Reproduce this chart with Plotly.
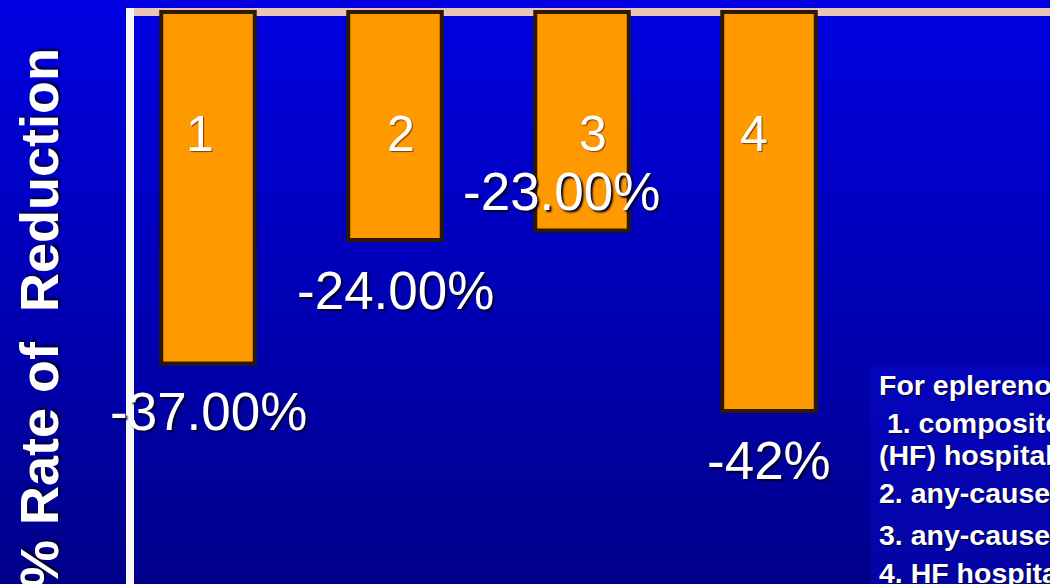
import plotly.graph_objects as go

# ---- data ----
bar_ids = ["1", "2", "3", "4"]
reduction_pct = [-37.0, -24.0, -23.0, -42.0]
value_labels = ["-37.00%", "-24.00%", "-23.00%", "-42%"]
y_title = "% Rate of\u00a0 Reduction"
legend_lines = [
    "For eplerenone vs placebo:",
    "\u00a01. composite of CV death or heart failure",
    "(HF) hospitalization",
    "2. any-cause death",
    "3. any-cause hospitalization",
    "4. HF hospitalization",
]

# ---- styling / layout helpers ----
W, H = 1050, 584
ML, MT = 134, 8
PW, PH = W - ML, H - MT
FONT = "Arial, Liberation Sans, sans-serif"
SHADOW = "2px 2px 2px #000030"

label_yshift = [-48, -50, 39, -49]
label_xshift = [0, 0, -21, 0]
id_xshift = [-8, 6, 11, -15]
legend_y_px = [385, 423, 455, 493, 535, 573]
legend_x_px = [877, 877, 877, 877, 877, 877]

def px_to_paper_x(px):
    return (px - ML) / PW

def px_to_paper_y(py):
    return (H - py) / PH

fig = go.Figure()
xs = list(range(len(bar_ids)))
fig.add_trace(go.Bar(
    x=xs, y=reduction_pct, width=0.5,
    marker=dict(color="#FF9900", line=dict(color="#2b1a00", width=4)),
    hoverinfo="skip",
))

shapes = []
# vertical gradient background (bright blue top -> navy bottom)
n_bands = 73
top_c, bot_c = 226, 138
for i in range(n_bands):
    y_top = i * H / n_bands
    y_bot = (i + 1) * H / n_bands + 1
    t = (i + 0.5) / n_bands
    b = round(top_c + (bot_c - top_c) * t)
    shapes.append(dict(
        type="rect", xref="paper", yref="paper", layer="below",
        x0=px_to_paper_x(-5), x1=px_to_paper_x(W + 5),
        y0=px_to_paper_y(y_bot), y1=px_to_paper_y(y_top),
        line=dict(width=0), fillcolor=f"rgb(0,0,{b})",
    ))
# legend box (slightly lighter)
shapes.append(dict(
    type="rect", xref="paper", yref="paper", layer="below",
    x0=px_to_paper_x(870), x1=px_to_paper_x(W + 10),
    y0=px_to_paper_y(H + 10), y1=px_to_paper_y(365),
    line=dict(width=0), fillcolor="rgba(20,20,255,0.22)",
))
# zero baseline
shapes.append(dict(
    type="line", xref="paper", yref="y", layer="below",
    x0=0, x1=1, y0=0, y1=0,
    line=dict(color="#EBC4B8", width=8),
))

annotations = []
for i, (v, t) in enumerate(zip(reduction_pct, value_labels)):
    annotations.append(dict(
        x=i, y=v, xref="x", yref="y", text=t, showarrow=False,
        xanchor="center", yanchor="middle",
        xshift=label_xshift[i], yshift=label_yshift[i],
        font=dict(family=FONT, size=53, color="white", shadow=SHADOW),
    ))
for i, b in enumerate(bar_ids):
    annotations.append(dict(
        x=i, y=px_to_paper_y(134), xref="x", yref="paper", text=b,
        showarrow=False, xanchor="center", yanchor="middle",
        xshift=id_xshift[i],
        font=dict(family=FONT, size=50, color="white", shadow="1px 1px 1px #804000"),
    ))
annotations.append(dict(
    x=px_to_paper_x(39), y=px_to_paper_y(318), xref="paper", yref="paper",
    text=f"<b>{y_title}</b>", textangle=-90, showarrow=False,
    xanchor="center", yanchor="middle",
    font=dict(family=FONT, size=54, color="white", shadow=SHADOW),
))
for line, lx, ly in zip(legend_lines, legend_x_px, legend_y_px):
    annotations.append(dict(
        x=px_to_paper_x(lx), y=px_to_paper_y(ly), xref="paper", yref="paper",
        text=f"<b>{line}</b>", showarrow=False,
        xanchor="left", yanchor="middle",
        font=dict(family=FONT, size=28.5, color="white", shadow="1px 1px 1px #000030"),
    ))

fig.update_layout(
    width=W, height=H,
    margin=dict(l=ML, r=0, t=MT, b=0, pad=0),
    paper_bgcolor="rgb(0,0,140)", plot_bgcolor="rgba(0,0,0,0)",
    showlegend=False,
    shapes=shapes, annotations=annotations,
    xaxis=dict(range=[-74 / 187, (PW - 74) / 187], showgrid=False,
               zeroline=False, showticklabels=False, ticks="", showline=False),
    yaxis=dict(range=[-572 / 9.5, 4 / 9.5], showgrid=False, zeroline=False,
               showticklabels=False, ticks="", showline=True,
               linecolor="#F8F8F8", linewidth=8),
)

fig.write_html("out.html", config={"displayModeBar": False})
